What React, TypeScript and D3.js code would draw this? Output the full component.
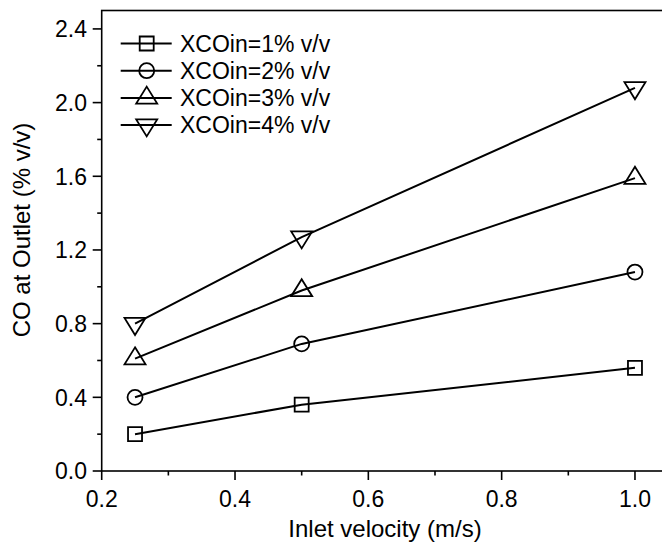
import React, { useEffect, useRef } from 'react';
import * as d3 from 'd3';

// inlet velocity (m/s)
const velocity = [0.25, 0.5, 1.0];

// CO at outlet (% v/v) for each inlet CO
const co1 = [0.2, 0.36, 0.56];
const co2 = [0.4, 0.69, 1.08];
const co3 = [0.61, 0.98, 1.59];
const co4 = [0.8, 1.27, 2.08];

const seriesNames = ['XCOin=1% v/v', 'XCOin=2% v/v', 'XCOin=3% v/v', 'XCOin=4% v/v'];
const seriesShapes = ['square', 'circle', 'up', 'down'];

const xTicks = [0.2, 0.4, 0.6, 0.8, 1.0];
const yTicks = [0.0, 0.4, 0.8, 1.2, 1.6, 2.0, 2.4];

const FONT = '"Liberation Sans", Arial, Helvetica, sans-serif';

function markerPath(shape: string) {
  if (shape === 'square') return 'M-7,-7H7V7H-7Z';
  if (shape === 'circle') return d3.arc()({ innerRadius: 0, outerRadius: 7.5, startAngle: 0, endAngle: 2 * Math.PI } as any) as string;
  if (shape === 'up') return 'M0,-11.3L10.5,5.7L-10.5,5.7Z';
  return 'M0,11.3L10.5,-5.7L-10.5,-5.7Z';
}

export default function App() {
  const ref = useRef<SVGSVGElement>(null);

  useEffect(() => {
    const svg = d3.select(ref.current);
    svg.selectAll('*').remove();

    const x = d3.scaleLinear().domain([0.2, 1.05]).range([101.7, 668.3]);
    const y = d3.scaleLinear().domain([0, 2.5]).range([471, 10.5]);

    const series = [co1, co2, co3, co4];

    // frame (right side runs off the picture)
    svg.append('rect')
      .attr('x', x(0.2)).attr('y', y(2.5))
      .attr('width', x(1.05) - x(0.2)).attr('height', y(0) - y(2.5))
      .attr('fill', 'none').attr('stroke', '#000').attr('stroke-width', 1.6);

    // x ticks
    const xg = svg.append('g');
    d3.range(0.2, 1.051, 0.1).forEach((v, i) => {
      xg.append('line')
        .attr('x1', x(v)).attr('x2', x(v))
        .attr('y1', y(0)).attr('y2', y(0) + (i % 2 === 0 ? 9 : 4.5))
        .attr('stroke', '#000').attr('stroke-width', 1.6);
    });
    xg.selectAll('text').data(xTicks).enter().append('text')
      .attr('x', d => x(d)).attr('y', 507)
      .attr('text-anchor', 'middle')
      .attr('font-family', FONT).attr('font-size', 23)
      .text(d => d.toFixed(1));

    // y ticks
    const yg = svg.append('g');
    d3.range(0, 2.41, 0.2).forEach((v, i) => {
      yg.append('line')
        .attr('x1', x(0.2)).attr('x2', x(0.2) - (i % 2 === 0 ? 9 : 4.5))
        .attr('y1', y(v)).attr('y2', y(v))
        .attr('stroke', '#000').attr('stroke-width', 1.6);
    });
    yg.selectAll('text').data(yTicks).enter().append('text')
      .attr('x', 87).attr('y', d => y(d))
      .attr('dy', '0.36em')
      .attr('text-anchor', 'end')
      .attr('font-family', FONT).attr('font-size', 23)
      .text(d => d.toFixed(1));

    // axis titles
    svg.append('text')
      .attr('x', x(0.625)).attr('y', 537)
      .attr('text-anchor', 'middle')
      .attr('font-family', FONT).attr('font-size', 24)
      .text('Inlet velocity (m/s)');

    svg.append('text')
      .attr('transform', 'translate(30,230) rotate(-90)')
      .attr('text-anchor', 'middle')
      .attr('font-family', FONT).attr('font-size', 24)
      .text('CO at Outlet (% v/v)');

    // lines + hollow markers
    const line = d3.line<number>().x((d, i) => x(velocity[i])).y(d => y(d));
    series.forEach((s, k) => {
      svg.append('path')
        .attr('d', line(s))
        .attr('fill', 'none').attr('stroke', '#000').attr('stroke-width', 2);
      svg.append('g').selectAll('path').data(s).enter().append('path')
        .attr('transform', (d, i) => `translate(${x(velocity[i])},${y(d)})`)
        .attr('d', markerPath(seriesShapes[k]))
        .attr('fill', 'none').attr('stroke', '#000').attr('stroke-width', 1.8);
    });

    // legend
    const lg = svg.append('g');
    seriesNames.forEach((name, k) => {
      const ly = 43.5 + k * 27.2;
      lg.append('line')
        .attr('x1', 120.7).attr('x2', 171.7).attr('y1', ly).attr('y2', ly)
        .attr('stroke', '#000').attr('stroke-width', 2);
      lg.append('path')
        .attr('transform', `translate(146.7,${ly})`)
        .attr('d', markerPath(seriesShapes[k]))
        .attr('fill', 'none').attr('stroke', '#000').attr('stroke-width', 1.8);
      lg.append('text')
        .attr('x', 180).attr('y', ly).attr('dy', '0.36em')
        .attr('font-family', FONT).attr('font-size', 23)
        .text(name);
    });
  }, []);

  return (
    <div style={{ position: 'fixed', left: 0, top: 0 }}>
      <svg ref={ref} width={662} height={543} style={{ display: 'block', background: '#fff' }}></svg>
    </div>
  );
}
